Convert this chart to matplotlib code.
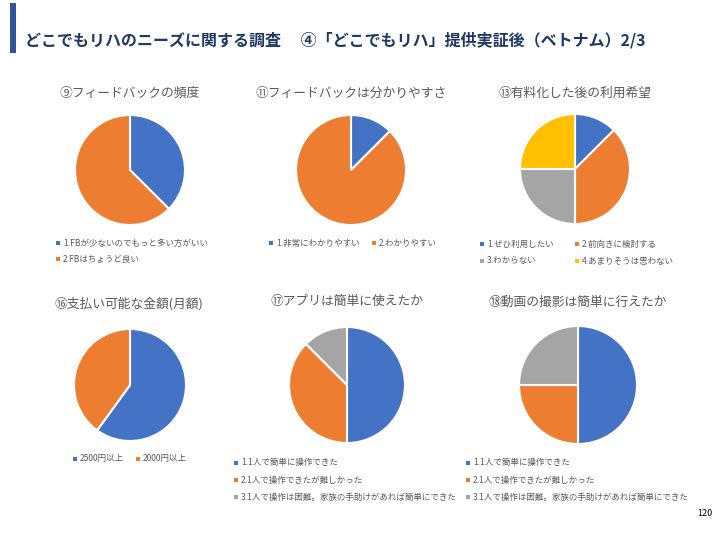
import matplotlib
matplotlib.use('Agg')
import matplotlib.pyplot as plt

plt.rcParams['font.family'] = ['Noto Sans CJK JP', 'DejaVu Sans']

BLUE = '#4472C4'; ORANGE = '#ED7D31'; GREY = '#A5A5A5'; YELLOW = '#FFC000'
TXT = '#595959'; NAVY = '#1F3864'; BAR = '#2F5597'

header = 'どこでもリハのニーズに関する調査　 ④「どこでもリハ」提供実証後（ベトナム）2/3'

q9_title = '⑨フィードバックの頻度'
q9_labels = ['1.FBが少ないのでもっと多い方がいい', '2.FBはちょうど良い']
q9_values = [3, 5]

q11_title = '⑪フィードバックは分かりやすさ'
q11_labels = ['1.非常にわかりやすい', '2.わかりやすい']
q11_values = [1, 7]

q13_title = '⑬有料化した後の利用希望'
q13_labels = ['1.ぜひ利用したい', '2.前向きに検討する', '3.わからない', '4.あまりそうは思わない']
q13_values = [1, 3, 2, 2]

q16_title = '⑯支払い可能な金額(月額)'
q16_labels = ['2500円以上', '2000円以上']
q16_values = [3, 2]

q17_title = '⑰アプリは簡単に使えたか'
q17_labels = ['1.1人で簡単に操作できた', '2.1人で操作できたが難しかった',
              '3.1人で操作は困難。家族の手助けがあれば簡単にできた']
q17_values = [4, 3, 1]

q18_title = '⑱動画の撮影は簡単に行えたか'
q18_labels = q17_labels
q18_values = [2, 1, 1]

W, H = 720, 540
fig = plt.figure(figsize=(7.2, 5.4), dpi=100)
ax = fig.add_axes([0, 0, 1, 1])


def Y(y):
    return H - y


def pie(values, cx, cy, r, colors):
    ax.pie(values, colors=colors, startangle=90, counterclock=False,
           center=(cx, Y(cy)), radius=r, frame=True,
           wedgeprops=dict(edgecolor='white', linewidth=1.5))


def legend_item(x, y, label, color):
    ax.scatter([x], [Y(y)], marker='s', s=5, color=color, lw=0, zorder=5)
    ax.text(x + 5, Y(y), label, fontsize=6.1, color=TXT, ha='left', va='center')


def title(x, y, s):
    ax.text(x, Y(y), s, fontsize=9.2, color=TXT, ha='center', va='center')


cols4 = [BLUE, ORANGE, GREY, YELLOW]

# row 1
title(130, 93, q9_title)
pie(q9_values, 130, 170, 55, cols4)
legend_item(58, 243, q9_labels[0], BLUE)
legend_item(58, 259, q9_labels[1], ORANGE)

title(351, 93, q11_title)
pie(q11_values, 351, 170, 55, cols4)
legend_item(271, 243, q11_labels[0], BLUE)
legend_item(374, 243, q11_labels[1], ORANGE)

title(575, 93, q13_title)
pie(q13_values, 575, 169, 55, cols4)
for i, lab in enumerate(q13_labels):
    legend_item(482 + 95 * (i % 2), 244 + 17 * (i // 2), lab, cols4[i])

# row 2
title(129, 304, q16_title)
pie(q16_values, 130, 385, 56, cols4)
legend_item(75, 459, q16_labels[0], BLUE)
legend_item(138, 459, q16_labels[1], ORANGE)

title(347, 302, q17_title)
pie(q17_values, 347, 385, 58, cols4)
for i, lab in enumerate(q17_labels):
    legend_item(236, 463 + 17 * i, lab, cols4[i])

title(578, 302, q18_title)
pie(q18_values, 578, 385, 59, cols4)
for i, lab in enumerate(q18_labels):
    legend_item(468, 463 + 17 * i, lab, cols4[i])

# header
ax.add_patch(plt.Rectangle((10, Y(53)), 6, 50, color=BAR, lw=0))
ax.text(25, Y(40), header, fontsize=11.5, fontweight='bold', color=NAVY,
        ha='left', va='center')
ax.text(705, Y(513), '120', fontsize=6.5, color='black', ha='center', va='center')

ax.set_xlim(0, W)
ax.set_ylim(0, H)
ax.set_aspect('auto')
ax.axis('off')
fig.savefig('out.png', dpi=100, facecolor='white')
